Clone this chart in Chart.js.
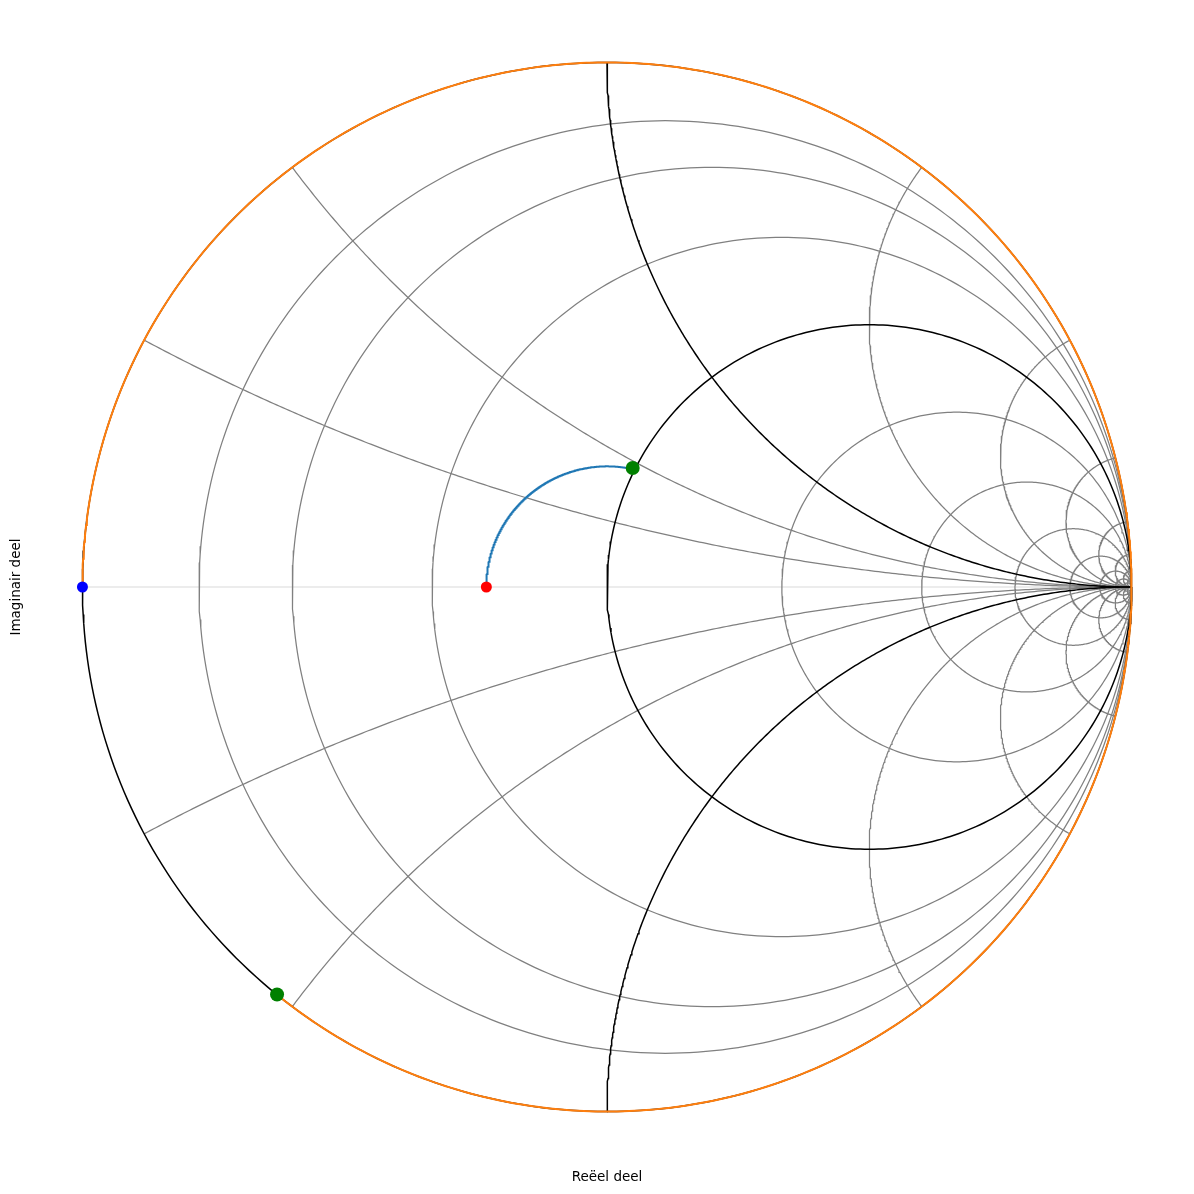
<!DOCTYPE html>
<html>
<head>
<meta charset="utf-8">
<script src="https://cdn.jsdelivr.net/npm/chart.js@4/dist/chart.umd.min.js"></script>
<style>
  body { margin: 0; background: #fff; }
  canvas { display: block; }
</style>
</head>
<body>
<canvas id="smith" width="1194" height="1194"></canvas>
<script>
// Smith chart grid values (normalised)
const resistanceValues = [0, 0.125, 0.25, 0.5, 1, 2, 4, 8, 16, 32, 64, 128];
const reactanceValues = [0.25, 0.5, 1, 2, 4, 8, 16, 32, 64, 128];
const boldValues = [0, 1];

// reflection coefficients [re, im]
const loadPoint = [-0.23, 0];       // red
const matchPoint = [0.049, 0.227];  // green, on r = 1
const shortPoint = [-1, 0];         // blue
const stubPoint = [-0.629, -0.777]; // green, end of stub

const axisTitles = ['Reëel deel', 'Imaginair deel'];

const GRAY = '#808080';
const BLACK = '#000000';

function arc(cx, cy, rad, a0, a1, n) {
  const pts = [];
  for (let i = 0; i <= n; i++) {
    const a = a0 + (a1 - a0) * i / n;
    pts.push({x: cx + rad * Math.cos(a), y: cy + rad * Math.sin(a)});
  }
  return pts;
}

// constant resistance circle
function resistanceCircle(r) {
  return arc(r / (1 + r), 0, 1 / (1 + r), 0, 2 * Math.PI, 360);
}

// constant reactance arc, only the part inside the unit circle
function reactanceArc(x) {
  const s = Math.sign(x), ax = Math.abs(x);
  const gx = (ax * ax - 1) / (ax * ax + 1), gy = 2 * ax / (ax * ax + 1);
  let a0 = Math.atan2(gy - 1 / ax, gx - 1);
  if (a0 < 0) a0 += 2 * Math.PI;
  return arc(1, 1 / ax, 1 / ax, a0, 1.5 * Math.PI, 300).map(p => ({x: p.x, y: s * p.y}));
}

// walk on a constant |gamma| circle toward the generator (clockwise)
function gammaArc(p0, p1) {
  const rho = Math.hypot(p0[0], p0[1]);
  const a0 = Math.atan2(p0[1], p0[0]);
  let a1 = Math.atan2(p1[1], p1[0]);
  while (a1 > a0) a1 -= 2 * Math.PI;
  return arc(0, 0, rho, a0, a1, 500);
}

function line(data, color, width, order) {
  return {data, showLine: true, pointRadius: 0, borderColor: color,
          borderWidth: width, fill: false, order};
}
function dot(p, color, radius) {
  return {data: [{x: p[0], y: p[1]}], showLine: false, pointRadius: radius,
          pointBackgroundColor: color, pointBorderWidth: 0, order: 0};
}

const datasets = [];
datasets.push(line([{x: shortPoint[0], y: 0}, {x: 1, y: 0}], '#e6e6e6', 1.3, 12));
resistanceValues.forEach(r => {
  const bold = boldValues.includes(r);
  datasets.push(line(resistanceCircle(r), bold ? BLACK : GRAY, bold ? 1.5 : 1.25, bold ? 9 : 10));
});
reactanceValues.forEach(x => {
  const bold = boldValues.includes(x);
  [x, -x].forEach(v => {
    datasets.push(line(reactanceArc(v), bold ? BLACK : GRAY, bold ? 1.5 : 1.25, bold ? 9 : 10));
  });
});
datasets.push(line(gammaArc(shortPoint, stubPoint), '#ff7f0e', 2, 2));
datasets.push(line(gammaArc(loadPoint, matchPoint), '#1f77b4', 2, 2));
datasets.push(dot(loadPoint, '#ff0000', 5.5));
datasets.push(dot(shortPoint, '#0000ff', 5.5));
datasets.push(dot(matchPoint, '#008000', 7));
datasets.push(dot(stubPoint, '#008000', 7));

const titleFont = {family: 'DejaVu Sans', size: 13.5};

new Chart(document.getElementById('smith'), {
  type: 'scatter',
  data: {datasets},
  options: {
    responsive: false,
    animation: false,
    events: [],
    layout: {padding: {left: 0, right: 10, top: 10, bottom: 0}},
    plugins: {legend: {display: false}, tooltip: {enabled: false}},
    scales: {
      x: {
        type: 'linear', min: -1.1, max: 1.1,
        ticks: {display: false}, grid: {display: false}, border: {display: false},
        title: {display: true, text: axisTitles[0], color: '#000', font: titleFont,
                padding: {top: 0, bottom: 8}},
        afterFit: s => { s.height = 30; }
      },
      y: {
        type: 'linear', min: -1.1, max: 1.1,
        ticks: {display: false}, grid: {display: false}, border: {display: false},
        title: {display: true, text: axisTitles[1], color: '#000', font: titleFont,
                padding: {top: 8, bottom: 0}},
        afterFit: s => { s.width = 30; }
      }
    }
  }
});
</script>
</body>
</html>
